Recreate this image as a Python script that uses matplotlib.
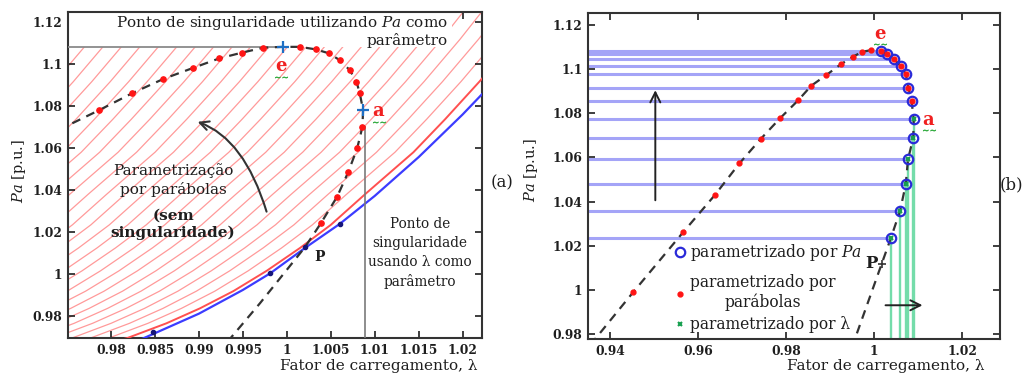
import numpy as np
import matplotlib
matplotlib.use('Agg')
import matplotlib.pyplot as plt
from matplotlib.lines import Line2D
from matplotlib.ticker import FixedLocator, FuncFormatter

plt.rcParams['font.family'] = 'DejaVu Serif'
plt.rcParams['mathtext.fontset'] = 'dejavuserif'

# ---- painel (a): curva PV com os limites das parabolas ----
# curva limite (vermelha) e curva de operacao (azul)
red_lam = np.array([0.9700, 0.9750, 0.9818, 0.9863, 0.9901, 0.9939, 0.9977, 1.0015,
                    1.0050, 1.0089, 1.0144, 1.0180, 1.0219, 1.0260, 1.0300, 1.0340, 1.0380])
red_pa = np.array([0.9600, 0.9625, 0.9694, 0.9765, 0.9836, 0.9918, 1.0015, 1.0124,
                   1.0234, 1.0380, 1.0580, 1.0737, 1.0916, 1.1118, 1.1330, 1.1553, 1.1790])
blue_lam = np.array([0.9830, 0.9850, 0.9900, 0.9950, 0.9981, 1.0021, 1.0060, 1.0100,
                     1.0150, 1.0200, 1.0240])
blue_pa = np.array([0.9681, 0.9718, 0.9811, 0.9924, 1.0003, 1.0125, 1.0238, 1.0372,
                    1.0557, 1.0760, 1.0935])
blue_pts_lam = [0.9848, 0.9981, 1.0021, 1.0060]
blue_pts_pa = [0.9725, 1.0003, 1.0127, 1.0238]

# curva PV (tracejada)
a_curve_lam = [0.9740, 0.9752, 0.97867, 0.98235, 0.98594, 0.98935, 0.99231, 0.99485, 0.99731,
               0.99958, 1.00148, 1.0033, 1.0048, 1.0060, 1.00716, 1.00792, 1.0083, 1.00867,
               1.0086, 1.0080, 1.0070, 1.00572, 1.00386, 1.00205, 0.99693, 0.9927]
a_curve_pa = [1.0685, 1.0710, 1.0781, 1.0860, 1.0929, 1.0982, 1.1027, 1.1054, 1.1078,
              1.1082, 1.1082, 1.1070, 1.1051, 1.1019, 1.0971, 1.0916, 1.0860, 1.0781,
              1.0701, 1.0599, 1.0487, 1.0368, 1.0241, 1.0127, 0.9860, 0.9650]
# pontos obtidos pelas parabolas
a_parab_lam = [0.97867, 0.98235, 0.98594, 0.98935, 0.99231, 0.99485, 0.99731, 1.00148,
               1.0033, 1.0048, 1.0060, 1.00716, 1.00792, 1.0083, 1.0086, 1.0080, 1.0070,
               1.00572, 1.00386]
a_parab_pa = [1.0781, 1.0860, 1.0929, 1.0982, 1.1027, 1.1054, 1.1078, 1.1082,
              1.1070, 1.1051, 1.1019, 1.0971, 1.0916, 1.0860, 1.0701, 1.0599, 1.0487,
              1.0368, 1.0241]
# pontos singulares e (Pa maximo) e a (lambda maximo)
e_lam, e_pa = 0.99958, 1.1082
a_lam, a_pa = 1.00867, 1.0781

# ---- painel (b) ----
b_parab_lam = [0.9453, 0.9567, 0.9638, 0.9694, 0.9742, 0.9786, 0.9828, 0.9857,
               0.9891, 0.9924, 0.9951, 0.9973, 0.9994]
b_parab_pa = [0.9990, 1.0263, 1.0429, 1.0573, 1.0683, 1.0777, 1.0860, 1.0925,
              1.0973, 1.1022, 1.1056, 1.1079, 1.1087]
# pontos parametrizados por Pa (circulos)
b_circ_lam = np.array([1.0015, 1.0030, 1.0045, 1.0061, 1.0072, 1.0078, 1.0085,
                       1.0090, 1.0089, 1.0077, 1.0072, 1.0059, 1.0038])
b_circ_pa = np.array([1.1083, 1.1067, 1.1046, 1.1014, 1.0978, 1.0917, 1.0856,
                      1.0776, 1.0690, 1.0591, 1.0479, 1.0358, 1.0234])
n_red_circ = 7  # os primeiros tambem foram obtidos pelas parabolas, o resto por lambda
b_tail_left = ([0.9355, 0.9370], [0.9750, 0.9786])
b_tail_right = ([0.9958, 0.9951], [0.9786, 0.9750])

xt_a = [0.98, 0.985, 0.99, 0.995, 1.0, 1.005, 1.01, 1.015, 1.02]
xt_b = [0.94, 0.96, 0.98, 1.0, 1.02]
yt = [0.98, 1.0, 1.02, 1.04, 1.06, 1.08, 1.1, 1.12]

dark = '#1e1e1e'
fmt = FuncFormatter(lambda v, p: '%g' % round(v, 4))

fig = plt.figure(figsize=(10.29, 3.79), dpi=100)
ax1 = fig.add_axes([0.0661, 0.1082, 0.4023, 0.8601])
ax2 = fig.add_axes([0.5714, 0.1055, 0.4004, 0.8602])

for ax in (ax1, ax2):
    ax.yaxis.set_major_locator(FixedLocator(yt))
    ax.xaxis.set_major_formatter(fmt)
    ax.yaxis.set_major_formatter(fmt)
    ax.tick_params(direction='in', top=True, right=True, length=5, width=1.2,
                   labelsize=8.8, pad=4, colors=dark)
    for lab in ax.get_xticklabels() + ax.get_yticklabels():
        lab.set_fontweight('bold')
    for s in ax.spines.values():
        s.set_linewidth(1.5)
        s.set_color('#333333')


def squiggle(ax, x, y):
    # sublinhado ondulado verde sob os rotulos e / a
    ax.plot([x], [y], ls='none', marker=r'$\sim\!\!\sim$', ms=9, color='#2eaa3c',
            mew=0.4, zorder=7)


# ---------------- (a) ----------------
ax1.set_xlim(0.9751, 1.0222)
ax1.set_ylim(0.9695, 1.1248)
ax1.xaxis.set_major_locator(FixedLocator(xt_a))

# hachura: copias da curva limite deslocadas em lambda
hatch_step = 0.0021
for k in range(1, 30):
    ax1.plot(red_lam - k * hatch_step, red_pa, color='#ff9a9a', lw=0.9, zorder=1)
ax1.axhspan(e_pa, 1.2, xmin=0, xmax=0.928, color='white', zorder=2, lw=0)

ax1.plot(red_lam, red_pa, color='#ff5050', lw=1.4, zorder=3)
ax1.plot(blue_lam, blue_pa, color='#3c3cff', lw=1.6, zorder=3)
ax1.plot(blue_pts_lam, blue_pts_pa, 'o', color='#15157a', ms=3, zorder=5)

ax1.hlines(e_pa, 0.9751, e_lam, color='#8a8a8a', lw=1.3, zorder=3)
ax1.vlines(a_lam + 0.0002, 0.9695, 1.0705, color='#7a7a7a', lw=1.2, zorder=3)

ax1.plot(a_curve_lam, a_curve_pa, color='#333333', lw=1.6, dashes=(4, 3), zorder=4)
ax1.plot(a_parab_lam, a_parab_pa, 'o', color='#ff1414', ms=3.8, zorder=5)
ax1.plot([e_lam, a_lam], [e_pa, a_pa], '+', color='#1f6fc4', ms=8, mew=1.6, zorder=6)

ax1.annotate('', xy=(0.98985, 1.0725), xytext=(0.99769, 1.0297),
             arrowprops=dict(arrowstyle='->', color='#333333', lw=1.5, mutation_scale=16,
                             shrinkA=0, shrinkB=0,
                             connectionstyle='angle3,angleA=107,angleB=160'), zorder=6)

ax1.text(0.918, 0.993, 'Ponto de singularidade utilizando $Pa$ como\nparâmetro',
         transform=ax1.transAxes, ha='right', va='top', multialignment='right',
         fontsize=11, color=dark, linespacing=1.1, zorder=7)
ax1.text(0.254, 0.485, 'Parametrização\npor parábolas', transform=ax1.transAxes,
         ha='center', va='center', fontsize=11, color=dark, linespacing=1.3, zorder=7)
ax1.text(0.254, 0.350, '(sem\nsingularidade)', transform=ax1.transAxes,
         ha='center', va='center', fontsize=11, fontweight='bold', color=dark,
         linespacing=1.25, zorder=7)
ax1.text(0.850, 0.261, 'Ponto de\nsingularidade\nusando λ como\nparâmetro',
         transform=ax1.transAxes, ha='center', va='center', fontsize=9.8, color=dark,
         linespacing=1.45, zorder=7)
ax1.text(1.00375, 1.0082, 'P', ha='center', va='center', fontsize=10, fontweight='bold',
         color=dark, zorder=7)
ax1.text(0.99928, 1.0992, 'e', ha='center', va='center', fontsize=13, fontweight='bold',
         color='#f02020', zorder=7)
ax1.text(1.01038, 1.0778, 'a', ha='center', va='center', fontsize=13, fontweight='bold',
         color='#f02020', zorder=7)
squiggle(ax1, 0.99928, 1.0940)
squiggle(ax1, 1.01050, 1.0726)

ax1.set_ylabel('$Pa$ [p.u.]', fontsize=10.5, color=dark)
ax1.yaxis.set_label_coords(-0.097, 0.512)
ax1.set_xlabel('Fator de carregamento, λ', fontsize=11, color=dark, loc='right')
ax1.xaxis.set_label_coords(0.990, -0.064)

# ---------------- (b) ----------------
ax2.set_xlim(0.935, 1.0286)
ax2.set_ylim(0.9777, 1.1255)
ax2.xaxis.set_major_locator(FixedLocator(xt_b))

ax2.hlines(b_circ_pa, 0.935, b_circ_lam, color='#a4a4f7', lw=2.2, zorder=1)
ax2.vlines(b_circ_lam[n_red_circ:], 0.9777, b_circ_pa[n_red_circ:], color='#74dcaa',
           lw=1.7, zorder=1)

b_line_lam = np.concatenate([b_tail_left[0], b_parab_lam, b_circ_lam, b_tail_right[0]])
b_line_pa = np.concatenate([b_tail_left[1], b_parab_pa, b_circ_pa, b_tail_right[1]])
ax2.plot(b_line_lam, b_line_pa, color='#333333', lw=1.6, dashes=(4, 3), zorder=2)

ax2.plot(b_circ_lam, b_circ_pa, 'o', mfc='none', mec='#2a2ad8', mew=1.6, ms=6.8, zorder=4)
ax2.plot(b_parab_lam, b_parab_pa, 'o', color='#ff1414', ms=3.5, zorder=5)
ax2.plot(b_circ_lam[:n_red_circ], b_circ_pa[:n_red_circ], 'o', color='#ff1414', ms=3.5,
         zorder=5)
ax2.plot(b_circ_lam[n_red_circ:], b_circ_pa[n_red_circ:], 'x', color='#18a050', ms=3.5,
         mew=1.5, zorder=5)
ax2.plot([1.0017], [1.0115], '+', color='#333333', ms=6, mew=1.2, zorder=5)

ax2.annotate('', xy=(0.9503, 1.0905), xytext=(0.9503, 1.0406),
             arrowprops=dict(arrowstyle='->', color='#222222', lw=1.4, mutation_scale=18,
                             shrinkA=0, shrinkB=0))
ax2.annotate('', xy=(1.0110, 0.9930), xytext=(1.0026, 0.9930),
             arrowprops=dict(arrowstyle='->', color='#222222', lw=1.4, mutation_scale=18,
                             shrinkA=0, shrinkB=0))

ax2.text(1.00134, 1.1160, 'e', ha='center', va='center', fontsize=13, fontweight='bold',
         color='#f02020', zorder=7)
ax2.text(1.0122, 1.0772, 'a', ha='center', va='center', fontsize=13, fontweight='bold',
         color='#f02020', zorder=7)
squiggle(ax2, 1.00134, 1.1113)
squiggle(ax2, 1.0124, 1.0725)
ax2.text(0.99946, 1.0119, 'P', ha='center', va='center', fontsize=12, fontweight='bold',
         color=dark, zorder=7)

# legenda em dois blocos para manter o espacamento original
leg_kw = dict(loc='lower left', frameon=False, fontsize=11.2, borderpad=0, borderaxespad=0,
              handlelength=0.8, handletextpad=0.25, labelspacing=0.3)
h_pa = [Line2D([], [], ls='none', marker='o', mfc='none', mec='#2a2ad8', mew=1.6, ms=6.8)]
leg1 = ax2.legend(h_pa, ['parametrizado por $Pa$'], bbox_to_anchor=(0.209, 0.233), **leg_kw)
ax2.add_artist(leg1)
h_rest = [Line2D([], [], ls='none', marker='o', color='#ff1414', ms=3.5),
          Line2D([], [], ls='none', marker='x', color='#18a050', ms=3.5, mew=1.5)]
leg2 = ax2.legend(h_rest, ['parametrizado por\nparábolas', 'parametrizado por λ'],
                  bbox_to_anchor=(0.209, 0.018), **leg_kw)
for leg in (leg1, leg2):
    for t in leg.get_texts():
        t.set_color(dark)
leg2.get_texts()[0].set_multialignment('center')

ax2.set_ylabel('$Pa$ [p.u.]', fontsize=10.5, color=dark)
ax2.yaxis.set_label_coords(-0.1165, 0.518)
ax2.set_xlabel('Fator de carregamento, λ', fontsize=11, color=dark, loc='right')
ax2.xaxis.set_label_coords(0.9636, -0.061)

fig.text(501.7 / 1029, 1 - 182.7 / 379, '(a)', ha='center', va='center', fontsize=12,
         color=dark)
fig.text(1011.7 / 1029, 1 - 185 / 379, '(b)', ha='center', va='center', fontsize=12,
         color=dark)

fig.savefig('out.png', dpi=100)
